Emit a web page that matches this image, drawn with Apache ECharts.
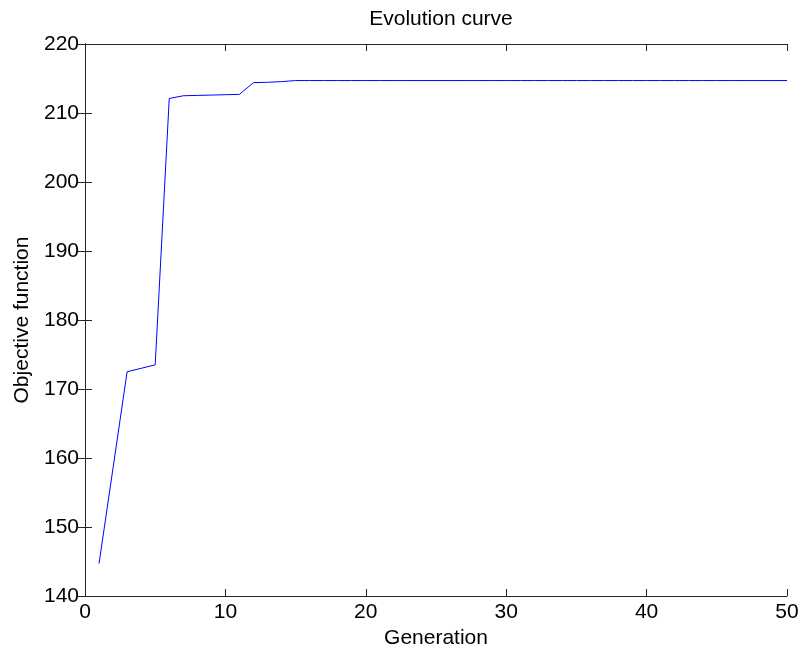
<!DOCTYPE html>
<html>
<head>
<meta charset="utf-8">
<title>Evolution curve</title>
<script src="https://cdn.jsdelivr.net/npm/echarts@6/dist/echarts.min.js"></script>
<style>
  html, body { margin: 0; padding: 0; background: #fff; }
  #chart { width: 804px; height: 655px; }
</style>
</head>
<body>
<div id="chart"></div>
<script>
// 数据：代数和目标函数值
const generations = Array.from({ length: 50 }, (_, i) => i + 1)
const objective = [
  144.7, 158.6, 172.5, 173.0, 173.5, 212.1, 212.5, 212.55, 212.6, 212.65,
  212.7, 214.4, 214.45, 214.55, 214.7, 214.7, 214.7, 214.7, 214.7, 214.7,
  214.7, 214.7, 214.7, 214.7, 214.7, 214.7, 214.7, 214.7, 214.7, 214.7,
  214.7, 214.7, 214.7, 214.7, 214.7, 214.7, 214.7, 214.7, 214.7, 214.7,
  214.7, 214.7, 214.7, 214.7, 214.7, 214.7, 214.7, 214.7, 214.7, 214.7
]
const xTicks = { min: 0, max: 50, interval: 10 }
const yTicks = { min: 140, max: 220, interval: 10 }

const font = 'Liberation Sans, Arial, Helvetica, sans-serif'
const axisColor = '#262626'

const chart = echarts.init(document.getElementById('chart'))

// 坐标轴公共样式：框线 + 向内刻度
const boxAxis = (show) => ({
  axisLine: { show: true, lineStyle: { color: axisColor, width: 1 } },
  axisTick: { show: true, inside: true, length: 7, lineStyle: { color: axisColor } },
  axisLabel: { show: show, color: '#000', fontSize: 21, fontFamily: font },
  splitLine: { show: false }
})

chart.setOption({
  animation: false,
  title: {
    text: 'Evolution curve',
    left: 436,
    top: 4,
    textAlign: 'center',
    textStyle: { fontSize: 21, fontWeight: 'normal', color: '#000', fontFamily: font }
  },
  grid: { left: 85, right: 17, top: 44, bottom: 59 },
  xAxis: [
    Object.assign({
      type: 'value', position: 'bottom', ...xTicks,
      name: 'Generation', nameLocation: 'middle', nameGap: 30,
      nameTextStyle: { fontSize: 21, color: '#000', fontFamily: font }
    }, boxAxis(true), { axisLabel: { show: true, color: '#000', fontSize: 21, fontFamily: font, margin: 6 } }),
    Object.assign({ type: 'value', position: 'top', ...xTicks }, boxAxis(false))
  ],
  yAxis: [
    Object.assign({
      type: 'value', position: 'left', ...yTicks,
      name: 'Objective function', nameLocation: 'middle', nameGap: 50,
      nameTextStyle: { fontSize: 21, color: '#000', fontFamily: font }
    }, boxAxis(true), { axisLabel: { show: true, color: '#000', fontSize: 21, fontFamily: font, margin: 6 } }),
    Object.assign({ type: 'value', position: 'right', ...yTicks }, boxAxis(false))
  ],
  series: [
    {
      type: 'line',
      data: generations.map((g, i) => [g, objective[i]]),
      symbol: 'none',
      lineStyle: { color: '#0000ff', width: 1 },
      xAxisIndex: 0,
      yAxisIndex: 0
    }
  ]
})
</script>
</body>
</html>
